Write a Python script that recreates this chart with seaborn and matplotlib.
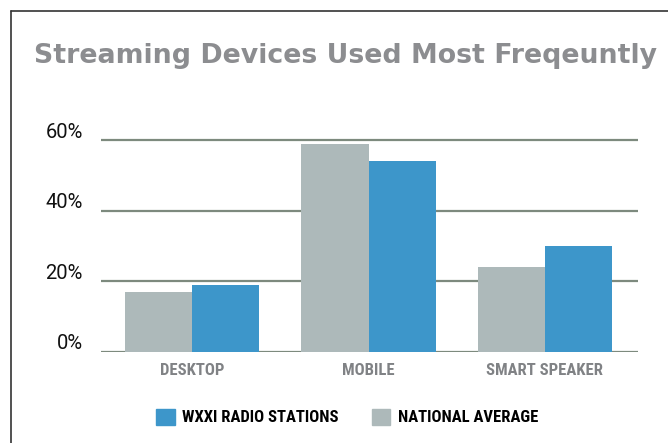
import pandas as pd
import seaborn as sns
import matplotlib.pyplot as plt
from matplotlib.lines import Line2D
from matplotlib.patches import Patch
import matplotlib.transforms as mtransforms

# Data (percent)
devices = ["DESKTOP", "MOBILE", "SMART SPEAKER"]
national_avg = [17, 59, 24]
wxxi = [19, 54, 30]
y_ticks = [0, 20, 40, 60]
y_tick_labels = ["0%", "20%", "40%", "60%"]

df = pd.DataFrame({
    "Device": devices * 2,
    "Share": national_avg + wxxi,
    "Source": ["NATIONAL AVERAGE"] * 3 + ["WXXI RADIO STATIONS"] * 3,
})

blue = "#3d96ca"
gray = "#adb9ba"
grid_col = "#7d8a7e"
cond_font = ["Roboto Condensed", "Liberation Sans Narrow", "Roboto"]

sns.set_style("white")
plt.rcParams["font.family"] = ["Roboto", "DejaVu Sans"]

fig = plt.figure(figsize=(6.68, 4.43), dpi=100)
ax = fig.add_axes([101 / 668, (443 - 351.7) / 443, 537 / 668, 215.2 / 443])

sns.barplot(data=df, x="Device", y="Share", hue="Source",
            hue_order=["NATIONAL AVERAGE", "WXXI RADIO STATIONS"],
            palette=[gray, blue], width=0.76, gap=0, saturation=1,
            linewidth=0, legend=False, ax=ax, zorder=3)

ax.set_xlim(-0.516, 2.527)
ax.set_ylim(0, 61)
ax.set_yticks(y_ticks)
ax.set_yticklabels(y_tick_labels, fontsize=14.5, color="#111111")
ax.yaxis.grid(True, color=grid_col, linewidth=1.6)
ax.set_axisbelow(True)
ax.tick_params(axis="y", length=0, pad=13)
ax.tick_params(axis="x", length=0, pad=8)
for lab in ax.get_xticklabels():
    lab.set_fontfamily(cond_font)
    lab.set_fontweight("bold")
    lab.set_fontsize(12)
    lab.set_color("#808285")
offset = mtransforms.ScaledTranslation(0, 7 / 72, fig.dpi_scale_trans)
for lab in ax.get_yticklabels():
    lab.set_transform(lab.get_transform() + offset)
ax.set_xlabel("")
ax.set_ylabel("")
sns.despine(ax=ax, left=True, bottom=True)

# Legend (WXXI first)
handles = [Patch(color=blue, label="WXXI RADIO STATIONS"),
           Patch(color=gray, label="NATIONAL AVERAGE")]
fig.legend(handles=handles, loc="center", bbox_to_anchor=(0.52, 0.059),
           ncol=2, frameon=False, handlelength=1.1, handleheight=1.1,
           handletextpad=0.45, columnspacing=2.0, labelcolor="#000000",
           prop={"family": cond_font, "weight": "bold", "size": 12})

fig.text(0.518, 0.874, "Streaming Devices Used Most Freqeuntly",
         ha="center", va="center", fontsize=19.3, fontweight="bold",
         family=["DejaVu Sans"], color="#8c8d90")

# Partial frame around the graphic
fig.add_artist(Line2D([11 / 668, 11 / 668], [0, 1 - 11 / 443],
                      color="#333333", linewidth=1.2))
fig.add_artist(Line2D([11 / 668, 1], [1 - 11 / 443, 1 - 11 / 443],
                      color="#333333", linewidth=1.2))

fig.savefig("out.png", dpi=100)
